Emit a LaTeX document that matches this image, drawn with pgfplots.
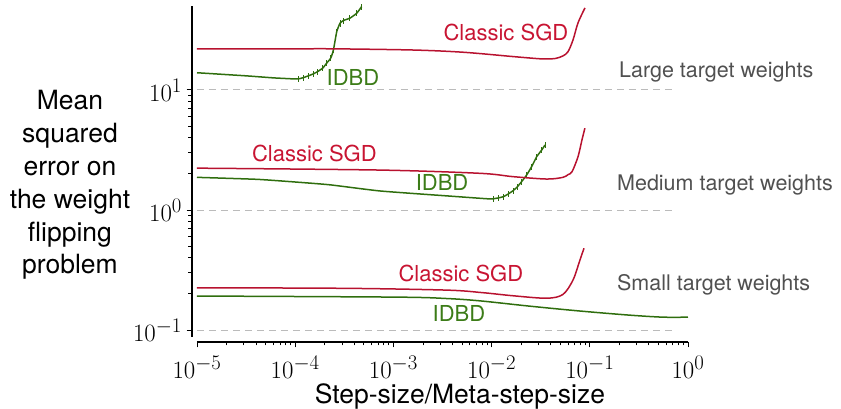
\documentclass[border=0pt]{standalone}
\usepackage{fontspec}
\setmainfont{TeX Gyre Heros}
\usepackage{pgfplots}
\usepackage{pgfplotstable}
\pgfplotsset{compat=1.18}
\definecolor{sgdred}{HTML}{B8122F}
\definecolor{sgdtext}{HTML}{C81432}
\definecolor{idbdgreen}{HTML}{2F6E0E}
\definecolor{idbdtext}{HTML}{3C7C18}
\definecolor{graytxt}{HTML}{505050}
\definecolor{dashgray}{HTML}{BBBBBB}

\pgfplotstableread{
x y
1e-5 22.0
1e-4 22.0
2.43e-4 22.0
1.58e-3 21.5
5.13e-3 20.6
1.66e-2 18.95
3.0e-2 18.2
3.66e-2 18.1
4.5e-2 18.3
5.33e-2 19.2
6.0e-2 20.8
6.75e-2 26.1
7.59e-2 36.2
8.93e-2 48.2
}\largesgd

\pgfplotstableread{
x y e
1e-5 13.9 0
3.16e-5 13.1 0
6e-5 12.6 0
9.5e-5 12.36 0
1.08e-4 12.35 0.06
1.21e-4 12.66 0.06
1.36e-4 13.09 0.06
1.53e-4 13.6 0.06
1.69e-4 14.2 0.06
1.91e-4 15.2 0.06
2.09e-4 16.7 0.06
2.30e-4 18.4 0.06
2.45e-4 21.5 0.06
2.65e-4 30.6 0.06
2.86e-4 35.9 0.06
3.09e-4 37.8 0.06
3.61e-4 39.6 0.06
4.23e-4 43.5 0.06
4.75e-4 49.4 0.06
}\largeidbd

\pgfplotstableread{
x y
1e-5 2.23
7.31e-4 2.15
7.62e-3 2.02
1.65e-2 1.895
3.66e-2 1.81
5.33e-2 1.87
6.0e-2 1.97
6.59e-2 2.08
7.59e-2 2.78
8.32e-2 3.83
8.91e-2 4.80
}\medsgd

\pgfplotstableread{
x y e
1e-5 1.87 0
4.08e-5 1.80 0
1e-4 1.71 0
2.26e-4 1.62 0
7.31e-4 1.44 0
3.52e-3 1.31 0
8.97e-3 1.24 0
1.04e-2 1.24 0.06
1.17e-2 1.26 0.06
1.32e-2 1.29 0.06
1.48e-2 1.36 0.06
1.66e-2 1.45 0.06
1.83e-2 1.56 0.06
2.02e-2 1.72 0.06
2.28e-2 1.96 0.06
2.56e-2 2.30 0.06
2.88e-2 2.78 0.06
3.24e-2 3.16 0.06
3.50e-2 3.48 0.06
}\medidbd

\pgfplotstableread{
x y
1e-5 0.225
3.37e-4 0.2225
3.52e-3 0.215
8e-3 0.205
1.65e-2 0.193
3.66e-2 0.184
5.33e-2 0.198
6.75e-2 0.261
7.94e-2 0.383
8.73e-2 0.48
}\smallsgd

\pgfplotstableread{
x y
1e-5 0.192
1.09e-3 0.188
3.5e-3 0.183
7.62e-3 0.175
2.46e-2 0.158
7.94e-2 0.144
0.256 0.133
0.556 0.128
1 0.128
}\smallidbd

\begin{document}
\begin{tikzpicture}
\useasboundingbox (-197pt,-72pt) rectangle (644pt,337pt);
\begin{axis}[
  at={(0,0)}, anchor=south west,
  scale only axis, width=491pt, height=331pt,
  xmode=log, ymode=log,
  xmin=1e-5, xmax=1,
  ymin=0.0875, ymax=50,
  axis lines=left,
  axis line shift=5pt,
  axis line style={line width=1.2pt, -},
  tick align=outside,
  major tick length=5.5pt, minor tick length=3.5pt,
  every tick/.style={black, line width=0.9pt},
  tick label style={font=\fontsize{24.88}{28}\selectfont},
  xticklabel style={yshift=-5pt},
  yticklabel style={xshift=-1pt},
  xtick={1e-5,1e-4,1e-3,1e-2,1e-1,1},
  ytick={0.1,1,10},
  clip=false,
]
\addplot[dashgray, line width=0.9pt, dash pattern=on 7pt off 5pt, forget plot] coordinates {(1e-5,10) (0.7,10)};
\addplot[dashgray, line width=0.9pt, dash pattern=on 7pt off 5pt, forget plot] coordinates {(1e-5,1) (0.7,1)};
\addplot[dashgray, line width=0.9pt, dash pattern=on 7pt off 5pt, forget plot] coordinates {(1e-5,0.1) (0.7,0.1)};

\addplot[idbdgreen, line width=1.5pt, line join=round, smooth, tension=0.3,
  error bars/.cd, y dir=both, y explicit relative, error mark=none,
  error bar style={line width=0.9pt, idbdgreen}] table[x=x, y=y, y error=e] {\largeidbd};
\addplot[sgdred, line width=1.5pt, line join=round, smooth, tension=0.5] table[x=x, y=y] {\largesgd};

\addplot[idbdgreen, line width=1.5pt, line join=round, smooth, tension=0.3,
  error bars/.cd, y dir=both, y explicit relative, error mark=none,
  error bar style={line width=0.9pt, idbdgreen}] table[x=x, y=y, y error=e] {\medidbd};
\addplot[sgdred, line width=1.5pt, line join=round, smooth, tension=0.5] table[x=x, y=y] {\medsgd};

\addplot[idbdgreen, line width=1.5pt, line join=round, smooth, tension=0.5] table[x=x, y=y] {\smallidbd};
\addplot[sgdred, line width=1.5pt, line join=round, smooth, tension=0.5] table[x=x, y=y] {\smallsgd};

\node[text=sgdtext, font=\fontsize{22}{26}\selectfont] at (axis cs:0.014,29.9) {Classic SGD};
\node[text=idbdtext, font=\fontsize{22}{26}\selectfont] at (axis cs:3.88e-4,12.8) {IDBD};
\node[text=sgdtext, font=\fontsize{22}{26}\selectfont] at (axis cs:1.57e-4,2.93) {Classic SGD};
\node[text=idbdtext, font=\fontsize{22}{26}\selectfont] at (axis cs:3.13e-3,1.68) {IDBD};
\node[text=sgdtext, font=\fontsize{22}{26}\selectfont] at (axis cs:4.87e-3,0.2985) {Classic SGD};
\node[text=idbdtext, font=\fontsize{22}{26}\selectfont] at (axis cs:4.66e-3,0.1386) {IDBD};

\node[anchor=base west, inner sep=0pt, text=graytxt, font=\fontsize{21.5}{26}\selectfont] at (axis cs:0.198,12.6) {Large target weights};
\node[anchor=base west, inner sep=0pt, text=graytxt, font=\fontsize{21.5}{26}\selectfont] at (axis cs:0.189,1.454) {Medium target weights};
\node[anchor=base west, inner sep=0pt, text=graytxt, font=\fontsize{21.5}{26}\selectfont] at (axis cs:0.189,0.2154) {Small target weights};

\node[align=center, font=\fontsize{26.5}{32.8}\selectfont] at (rel axis cs:-0.2587,0.459) {Mean\\squared\\error on\\the weight\\flipping\\problem};
\node[anchor=base, inner sep=0pt, font=\fontsize{26.5}{32}\selectfont] at (rel axis cs:0.5356,-0.1994) {Step-size/Meta-step-size};
\end{axis}
\end{tikzpicture}
\end{document}
